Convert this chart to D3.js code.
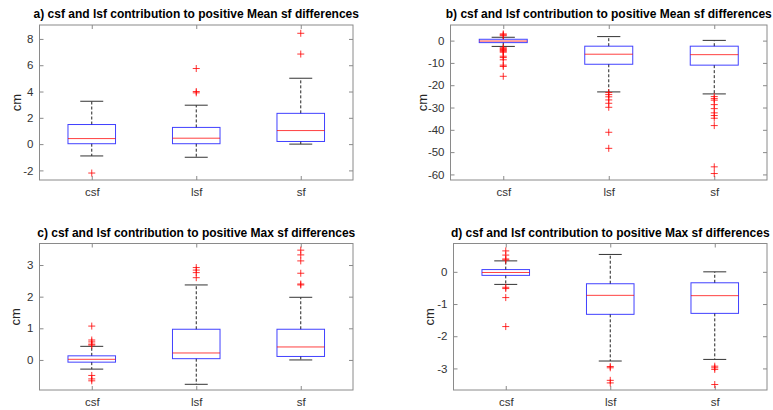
<!DOCTYPE html>
<html>
<head>
<meta charset="utf-8">
<script src="https://cdn.jsdelivr.net/npm/d3@7"></script>
<style>
  body { margin: 0; background: #fff; }
  svg { display: block; font-family: "Liberation Sans", Arial, sans-serif; }
</style>
</head>
<body>
<svg id="chart" width="773" height="410"></svg>
<script>
// groups on the x axis
var categories = ["csf", "lsf", "sf"];

var titles = [
  "a) csf and lsf contribution to positive Mean sf differences",
  "b) csf and lsf contribution to positive Mean sf differences",
  "c) csf and lsf contribution to positive Max sf differences",
  "d) csf and lsf contribution to positive Max sf differences"
];

// box stats per group: [lower whisker, q1, median, q3, upper whisker]
var statsA = [[-0.9, 0.03, 0.42, 1.49, 3.26], [-1.0, 0.03, 0.45, 1.27, 2.96], [0.0, 0.2, 1.03, 2.34, 5.01]];
var statsB = [[-2.6, -0.9, -0.2, 0.6, 1.5], [-23.0, -10.6, -6.1, -2.5, 1.8], [-23.9, -11.0, -6.3, -2.5, 0.1]];
var statsC = [[-0.29, -0.07, 0.02, 0.13, 0.43], [-0.77, 0.04, 0.22, 0.97, 2.37], [0.0, 0.11, 0.41, 0.97, 1.98]];
var statsD = [[-0.39, -0.11, -0.02, 0.07, 0.34], [-2.77, -1.32, -0.73, -0.37, 0.54], [-2.72, -1.29, -0.74, -0.34, 0.0]];

// outliers per group
var outliersA = [[-2.2], [5.75, 4.0, 3.9], [8.43, 6.85]];
var outliersB = [
  [3.0, 2.6, 2.2, -3.2, -3.6, -4.0, -4.4, -4.8, -5.2, -7.0, -7.6, -8.6, -11.0, -11.6, -16.0],
  [-23.3, -24.2, -25.2, -26.6, -28.1, -29.9, -41.1, -48.3],
  [-25.1, -26.0, -26.7, -28.7, -30.5, -32.4, -33.6, -34.8, -38.1, -56.6, -59.6]
];
var outliersC = [
  [1.07, 0.63, 0.57, 0.5, 0.47, -0.49, -0.6, -0.66],
  [2.92, 2.84, 2.76, 2.6],
  [3.47, 3.32, 3.13, 2.74, 2.4, 2.37]
];
var outliersD = [
  [0.65, 0.52, 0.4, 0.37, -0.48, -0.52, -0.8, -1.7],
  [-2.94, -2.98, -3.37, -3.45],
  [-2.93, -2.98, -3.03, -3.5]
];

// y axis ranges and tick values
var domainA = [-2.73, 9.06], ticksA = [-2, 0, 2, 4, 6, 8];
var domainB = [-62.5, 7.0], ticksB = [-60, -50, -40, -30, -20, -10, 0];
var domainC = [-0.95, 3.68], ticksC = [0, 1, 2, 3];
var domainD = [-3.67, 0.88], ticksD = [-3, -2, -1, 0];

var panels = [
  {title: titles[0], stats: statsA, out: outliersA, domain: domainA, ticks: ticksA, left: 39.5, right: 353, top: 25, bottom: 180, ylab: 16},
  {title: titles[1], stats: statsB, out: outliersB, domain: domainB, ticks: ticksB, left: 450.5, right: 767, top: 25, bottom: 180, ylab: 422},
  {title: titles[2], stats: statsC, out: outliersC, domain: domainC, ticks: ticksC, left: 39.5, right: 353, top: 243.5, bottom: 390, ylab: 15},
  {title: titles[3], stats: statsD, out: outliersD, domain: domainD, ticks: ticksD, left: 453.5, right: 767, top: 243.5, bottom: 390, ylab: 429}
];

var svg = d3.select("#chart");

// matlab prints plain hyphen minus signs
var fmt = function(d) { return String(d); };

var drawPanel = function(p) {
  var w = p.right - p.left, h = p.bottom - p.top;
  var g = svg.append("g").attr("transform", "translate(" + p.left + "," + p.top + ")");

  var x = d3.scalePoint().domain(categories).range([0, w]).padding(0.5);
  var y = d3.scaleLinear().domain(p.domain).range([h, 0]);
  var step = x.step();
  var boxW = step * 0.455, capW = step * 0.22;

  // axes: ticks point inwards like matlab
  var yl = g.append("g").call(d3.axisLeft(y).tickValues(p.ticks).tickFormat(fmt).tickSize(-4).tickSizeOuter(0).tickPadding(6));
  var yr = g.append("g").attr("transform", "translate(" + w + ",0)")
    .call(d3.axisRight(y).tickValues(p.ticks).tickSize(-4).tickSizeOuter(0).tickFormat(""));
  var xb = g.append("g").attr("transform", "translate(0," + h + ")")
    .call(d3.axisBottom(x).tickSize(-4).tickSizeOuter(0).tickPadding(8));
  var xt = g.append("g").call(d3.axisTop(x).tickSize(-4).tickSizeOuter(0).tickFormat(""));
  [yl, yr, xb, xt].forEach(function(a) {
    a.select(".domain").remove();
    a.selectAll("line").attr("stroke", "#8a8a8a");
    a.selectAll("text").attr("fill", "#333").style("font-size", "11.5px")
      .style("font-family", "'Liberation Sans', Arial, sans-serif");
  });
  g.append("rect").attr("width", w).attr("height", h)
    .attr("fill", "none").attr("stroke", "#8a8a8a").attr("stroke-width", 1);

  var groups = g.selectAll(".grp").data(p.stats).enter().append("g")
    .attr("transform", function(d, i) { return "translate(" + x(categories[i]) + ",0)"; });

  // whiskers (dashed)
  groups.append("line").attr("y1", function(d) { return y(d[3]); }).attr("y2", function(d) { return y(d[4]); })
    .attr("stroke", "#222").attr("stroke-dasharray", "3,2");
  groups.append("line").attr("y1", function(d) { return y(d[1]); }).attr("y2", function(d) { return y(d[0]); })
    .attr("stroke", "#222").attr("stroke-dasharray", "3,2");
  // caps
  groups.append("line").attr("x1", -capW / 2).attr("x2", capW / 2)
    .attr("y1", function(d) { return y(d[4]); }).attr("y2", function(d) { return y(d[4]); })
    .attr("stroke", "#333");
  groups.append("line").attr("x1", -capW / 2).attr("x2", capW / 2)
    .attr("y1", function(d) { return y(d[0]); }).attr("y2", function(d) { return y(d[0]); })
    .attr("stroke", "#333");
  // box
  groups.append("rect").attr("x", -boxW / 2).attr("width", boxW)
    .attr("y", function(d) { return y(d[3]); })
    .attr("height", function(d) { return y(d[1]) - y(d[3]); })
    .attr("fill", "none").attr("stroke", "#0000ff").attr("stroke-opacity", 0.75);
  // median
  groups.append("line").attr("x1", -boxW / 2).attr("x2", boxW / 2)
    .attr("y1", function(d) { return y(d[2]); }).attr("y2", function(d) { return y(d[2]); })
    .attr("stroke", "#ff0000").attr("stroke-opacity", 0.75);

  // outliers as red plus signs
  var m = 3.5;
  groups.each(function(d, i) {
    d3.select(this).selectAll(".out").data(p.out[i]).enter().append("path")
      .attr("d", function(v) {
        var yy = y(v);
        return "M" + (-m) + "," + yy + "H" + m + "M0," + (yy - m) + "V" + (yy + m);
      })
      .attr("stroke", "#ff0000").attr("stroke-opacity", 0.8).attr("fill", "none");
  });

  // title
  svg.append("text").attr("x", p.left + w / 2).attr("y", p.top - 7)
    .attr("text-anchor", "middle").style("font-size", "12px").style("font-weight", "bold")
    .attr("fill", "#000").text(p.title);

  // y label
  svg.append("text").attr("transform", "translate(" + p.ylab + "," + (p.top + h / 2) + ") rotate(-90)")
    .attr("text-anchor", "middle").attr("dy", "0.35em").style("font-size", "13px")
    .attr("fill", "#262626").text("cm");
};

panels.forEach(drawPanel);
</script>
</body>
</html>
